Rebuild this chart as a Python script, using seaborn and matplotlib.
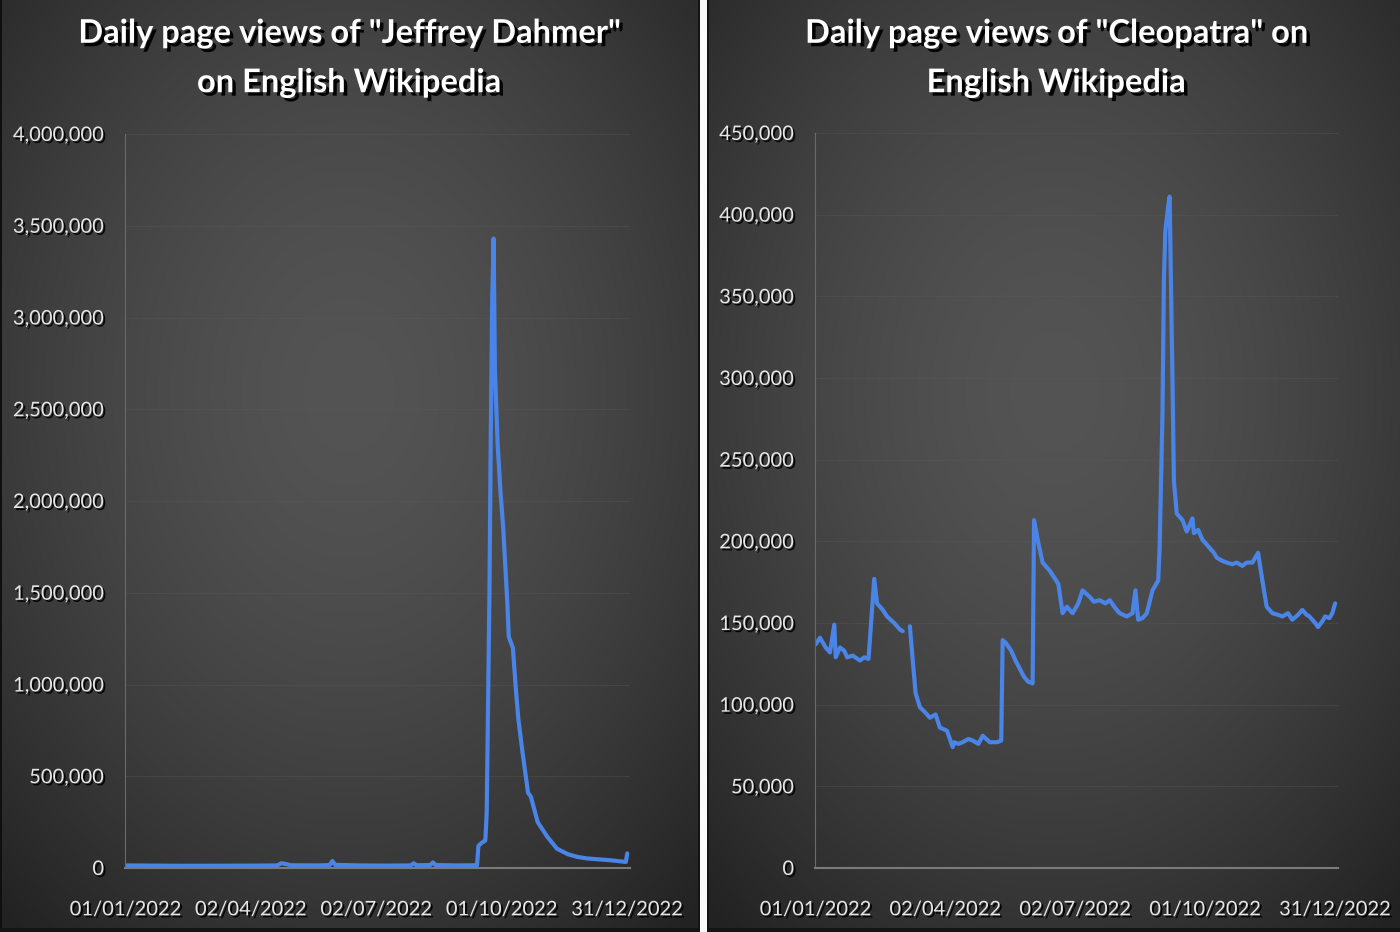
import numpy as np
import pandas as pd
import matplotlib
matplotlib.use("Agg")
import matplotlib.pyplot as plt
import matplotlib.patheffects as pe
from matplotlib.ticker import FuncFormatter
import seaborn as sns

# ---------------- data ----------------
year_start = "2022-01-01"
x_tick_labels = ["01/01/2022", "02/04/2022", "02/07/2022", "01/10/2022", "31/12/2022"]
x_tick_days = [0, 91, 182, 273, 364]

dahmer_day = [0, 20, 45, 70, 95, 110, 113, 116, 120, 140, 148, 150, 152, 170, 190,
              207, 209, 211, 221, 223, 225, 240, 255, 256, 258, 261, 262, 264, 265,
              266, 267, 268, 270, 272, 274, 277, 278, 281, 283, 285, 288, 292, 294,
              299, 306, 313, 321, 328, 335, 352, 363, 364]
dahmer_views = [14000, 13000, 12000, 12500, 13000, 14000, 26000, 22000, 15000, 14000,
                16000, 38000, 17000, 14000, 13000, 14000, 26000, 15000, 16000, 30000,
                16000, 14000, 15000, 120000, 135000, 150000, 300000, 1500000, 2400000,
                3100000, 3430000, 2700000, 2300000, 2050000, 1850000, 1440000, 1260000,
                1200000, 990000, 810000, 630000, 410000, 390000, 250000, 170000, 105000,
                75000, 60000, 52000, 42000, 33000, 80000]

cleo_day_a = [0, 3, 7, 10, 13, 14, 17, 20, 22, 26, 31, 34, 37, 41, 43, 47, 50, 55, 59, 61]
cleo_views_a = [137000, 141000, 135000, 132000, 149000, 129000, 135000, 133000, 129000,
                130000, 127000, 129000, 128000, 177000, 162000, 158000, 154000, 150000,
                146000, 145000]
cleo_day_b = [66, 68, 70, 73, 77, 80, 84, 87, 92, 96, 97, 100, 103, 107, 110, 114, 117,
              122, 127, 130, 131, 133, 137, 140, 146, 149, 152, 153, 156, 159, 164, 170,
              173, 176, 180, 184, 187, 192, 195, 199, 203, 206, 210, 213, 218, 222, 224,
              226, 229, 232, 236, 240, 241, 243, 244, 245, 247, 248, 250, 251, 253, 255,
              257, 260, 262, 264, 265, 268, 271, 274, 276, 279, 281, 285, 288, 292, 295,
              299, 302, 306, 310, 313, 316, 320, 324, 327, 331, 334, 338, 341, 344, 346,
              350, 352, 355, 357, 360, 362, 364]
cleo_views_b = [148000, 127000, 107000, 98500, 95000, 92000, 94000, 86000, 84000, 74000,
                77000, 76000, 77000, 79000, 78000, 76000, 81000, 77000, 77000, 78000,
                139500, 138000, 133000, 127000, 117000, 114000, 113000, 213000, 199000,
                187000, 182000, 174000, 156000, 160000, 156000, 162000, 170000, 166000,
                163000, 164000, 162000, 164000, 159000, 156000, 154000, 156000, 170000,
                152000, 153000, 156000, 170000, 176000, 196000, 278000, 360000, 390000,
                405000, 411000, 299000, 237000, 217000, 215000, 213000, 206000, 210000,
                214000, 205000, 207000, 201000, 198000, 196000, 193000, 190000, 188000,
                187000, 186000, 187000, 185000, 187000, 187000, 193000, 176000, 160000,
                156000, 155000, 154000, 156000, 152000, 155000, 158000, 155000, 154000,
                150000, 147500, 151000, 154000, 153000, 156000, 162000]

titles = ['Daily page views of "Jeffrey Dahmer"\non English Wikipedia',
          'Daily page views of "Cleopatra" on\nEnglish Wikipedia']
y_max = [4000000, 450000]
y_step = [500000, 50000]

# ---------------- frames ----------------
t0 = pd.Timestamp(year_start)
df_dahmer = pd.DataFrame({"date": t0 + pd.to_timedelta(dahmer_day, unit="D"),
                          "views": dahmer_views, "seg": 0})
df_cleo = pd.concat([
    pd.DataFrame({"date": t0 + pd.to_timedelta(cleo_day_a, unit="D"),
                  "views": cleo_views_a, "seg": 0}),
    pd.DataFrame({"date": t0 + pd.to_timedelta(cleo_day_b, unit="D"),
                  "views": cleo_views_b, "seg": 1}),
], ignore_index=True)

# ---------------- style ----------------
sns.set_theme(style="dark")
plt.rcParams["font.family"] = ["Lato", "DejaVu Sans"]

W, H = 1400, 932
fig = plt.figure(figsize=(W / 100, H / 100), dpi=100)
fig.patch.set_facecolor("#2a2a2a")

# background gradient panels
bg_ax = fig.add_axes([0, 0, 1, 1], zorder=-10)
yy, xx = np.mgrid[0:H, 0:W].astype(float)
img = np.zeros((H, W))
def panel(x0, x1):
    cx = (x0 + x1) / 2
    cy = H * 0.42
    d = np.sqrt(((xx - cx) / ((x1 - x0) * 0.75)) ** 2 + ((yy - cy) / (H * 0.75)) ** 2)
    return 84 - 50 * np.clip(d, 0, 1) ** 1.6
lp = panel(0, 698)
rp = panel(709, 1400)
img[:, :698] = lp[:, :698]
img[:, 709:] = rp[:, 709:]
img[:, 698:700] = 20
img[:, 700:707] = 250
img[:, 707:709] = 20
img[:, 0:2] = 15
img[H - 4:, :698] = 20
img[H - 4:, 709:] = 20
rgb = np.repeat((img / 255.0)[:, :, None], 3, axis=2)
bg_ax.imshow(rgb, aspect="auto", extent=[0, W, H, 0], interpolation="bilinear")
bg_ax.set_axis_off()

line_color = "#4a84e6"
text_color = "#e6e6e6"
shadow = [pe.withSimplePatchShadow(offset=(1.5, -1.5), shadow_rgbFace="black", alpha=0.9)]
title_shadow = [pe.withSimplePatchShadow(offset=(2.5, -2.5), shadow_rgbFace="black", alpha=0.95)]

axes_rects = [
    [125 / W, 64 / H, (630 - 125) / W, 734 / H],
    [815 / W, 64 / H, (1338 - 815) / W, 735 / H],
]
frames = [df_dahmer, df_cleo]
title_x = [349 / W, 1056 / W]

for i, (rect, df) in enumerate(zip(axes_rects, frames)):
    ax = fig.add_axes(rect)
    ax.set_facecolor("none")
    sns.lineplot(data=df, x="date", y="views", units="seg", estimator=None,
                 color=line_color, linewidth=3.0, ax=ax, legend=False)
    ax.set_xlim(t0 - pd.Timedelta(days=0.5), t0 + pd.Timedelta(days=366))
    ax.set_ylim(0, y_max[i])
    ax.set_yticks(np.arange(0, y_max[i] + 1, y_step[i]))
    ax.yaxis.set_major_formatter(FuncFormatter(lambda v, p: f"{v:,.0f}"))
    ax.set_xticks([t0 + pd.Timedelta(days=d) for d in x_tick_days])
    ax.set_xticklabels(x_tick_labels)
    ax.set_xlabel("")
    ax.set_ylabel("")
    ax.tick_params(axis="both", length=0, colors=text_color, labelsize=14.5)
    ax.tick_params(axis="y", pad=15)
    ax.tick_params(axis="x", pad=24)
    for lab in ax.get_xticklabels() + ax.get_yticklabels():
        lab.set_path_effects(shadow)
        lab.set_color(text_color)
    ax.grid(axis="y", color="#5a5a5a", linewidth=0.8, alpha=0.35)
    ax.grid(axis="x", visible=False)
    for s in ["top", "right"]:
        ax.spines[s].set_visible(False)
    ax.spines["left"].set_color("#6a6a6a")
    ax.spines["left"].set_linewidth(0.8)
    ax.spines["bottom"].set_color("#7a7a7a")
    ax.spines["bottom"].set_linewidth(1.5)

    fig.text(title_x[i], (H - 58) / H, titles[i], ha="center", va="center",
             fontsize=23.5, fontweight="bold", color="white", linespacing=1.85,
             path_effects=title_shadow)

fig.savefig("out.png", dpi=100, facecolor=fig.get_facecolor())
